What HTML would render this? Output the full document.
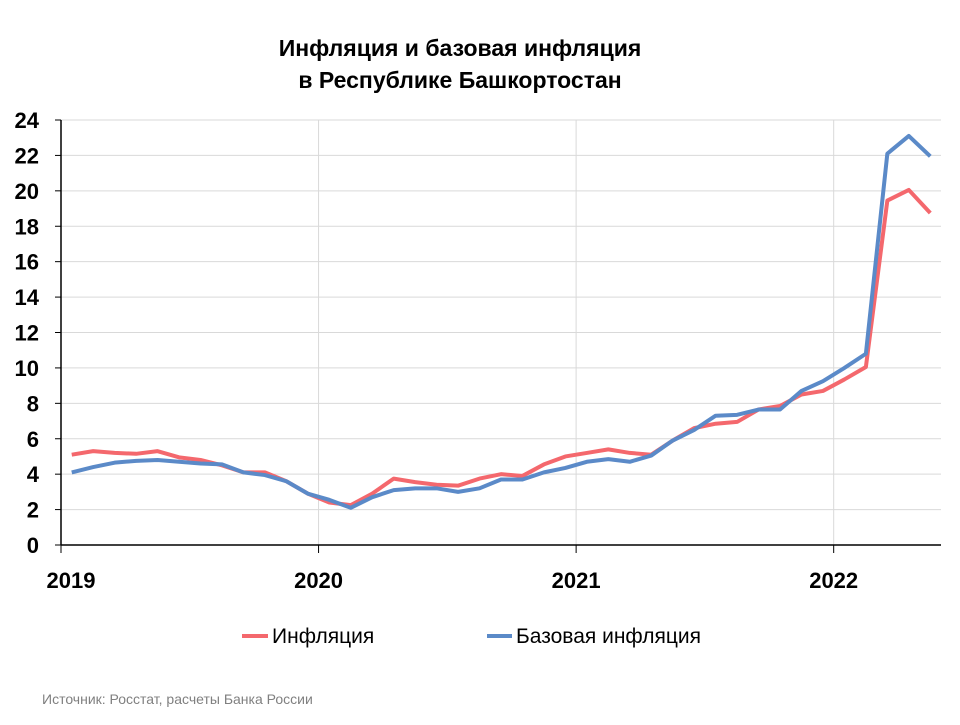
<!DOCTYPE html>
<html><head><meta charset="utf-8"><style>
body{margin:0;background:#fff;font-family:"Liberation Sans",Arial,sans-serif}
svg text{font-family:"Liberation Sans",Arial,sans-serif}
</style></head><body>
<svg id="c" width="960" height="720">
<text x="460" y="56" text-anchor="middle" font-size="23" font-weight="bold">Инфляция и базовая инфляция</text>
<text x="460" y="88" text-anchor="middle" font-size="23" font-weight="bold">в  Республике Башкортостан</text>
<g id="grid"></g>
<g id="axes"></g>
<g id="series"></g>
<g>
<line x1="242" y1="636" x2="268" y2="636" stroke="#f4686d" stroke-width="4"/>
<text x="272" y="643" font-size="21">Инфляция</text>
<line x1="487" y1="636" x2="512" y2="636" stroke="#5b8ac8" stroke-width="4"/>
<text x="516" y="643" font-size="21">Базовая инфляция</text>
</g>
<text x="42" y="704" font-size="14" fill="#808080">Источник: Росстат, расчеты Банка России</text>
</svg>
<script>
const years=["2019","2020","2021","2022"];
const yTicks=[0,2,4,6,8,10,12,14,16,18,20,22,24];
const inflation=[5.1,5.3,5.2,5.15,5.3,4.95,4.8,4.5,4.1,4.1,3.6,2.9,2.4,2.25,2.9,3.75,3.55,3.4,3.35,3.75,4.0,3.9,4.55,5.0,5.2,5.4,5.2,5.1,5.9,6.6,6.85,6.95,7.65,7.85,8.5,8.7,9.35,10.05,19.45,20.05,18.75];
const core=[4.1,4.4,4.65,4.75,4.8,4.7,4.6,4.55,4.1,3.95,3.6,2.9,2.55,2.1,2.7,3.1,3.2,3.2,3.0,3.2,3.7,3.7,4.1,4.35,4.7,4.85,4.7,5.05,5.9,6.5,7.3,7.35,7.65,7.65,8.7,9.25,10.0,10.8,22.1,23.1,21.95];
const NS="http://www.w3.org/2000/svg";
const L=61,R=941,T=120,B=545,nMonths=41;
const xm=i=>L+(R-L)/nMonths*(i+0.5);
const xy=k=>L+(R-L)/nMonths*12*k;
const y=v=>B-(B-T)*v/24;
function mk(p,tag,a){const e=document.createElementNS(NS,tag);for(const k in a)e.setAttribute(k,a[k]);p.appendChild(e);return e;}
const g=document.getElementById('grid'),ax=document.getElementById('axes'),s=document.getElementById('series');
yTicks.forEach(v=>{
 if(v>0){const l=mk(g,'line',{x1:L,x2:R,y1:y(v),y2:y(v),stroke:'#d9d9d9','stroke-width':1});
 
 }
 const t=mk(ax,'line',{x1:L-6,x2:L,y1:y(v),y2:y(v),stroke:'#000','stroke-width':1});
 
 
 const tx=mk(ax,'text',{x:L-22,y:y(v)+8,'text-anchor':'end','font-size':22,'font-weight':'bold'});
 tx.textContent=v;
 
 
});
years.forEach((yr,k)=>{
 if(k>0){const l=mk(g,'line',{x1:xy(k),x2:xy(k),y1:T,y2:B,stroke:'#d9d9d9','stroke-width':1});
 
 }
 const t=mk(ax,'line',{x1:xy(k),x2:xy(k),y1:B,y2:B+8,stroke:'#000','stroke-width':1});
 
 
 const tx=mk(ax,'text',{x:k==0?xy(k)+10:xy(k),y:588,'text-anchor':'middle','font-size':22,'font-weight':'bold'});
 tx.textContent=yr;
 
 
});
const ya=mk(ax,'line',{x1:L,x2:L,y1:T,y2:B,stroke:'#000','stroke-width':1.5});


const xa=mk(ax,'line',{x1:L,x2:R,y1:B,y2:B,stroke:'#000','stroke-width':1.5});


function line(d,c,n){const p=mk(s,'polyline',{points:d.map((v,i)=>xm(i)+','+y(v)).join(' '),fill:'none',stroke:c,'stroke-width':4,'stroke-linejoin':'round'});
 
 }
line(inflation,'#f4686d','inflation-line');
line(core,'#5b8ac8','core-inflation-line');
</script>
</body></html>
